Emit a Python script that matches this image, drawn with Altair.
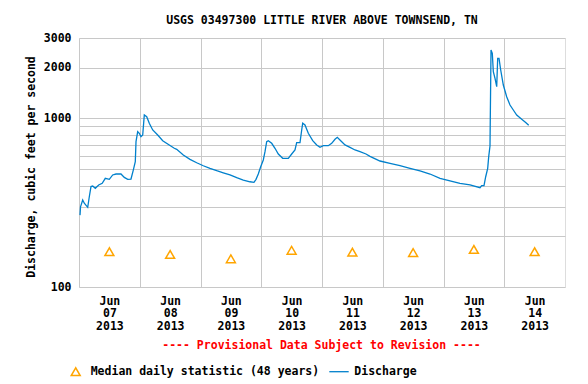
import altair as alt
import pandas as pd

# ---- data ----
hours = [0.40, 0.6, 1.46, 2.09, 3.44, 4.07, 4.74, 5.41, 6.44, 7.78,
         9.17, 10.39, 11.97, 13.31, 14.62, 16.59, 17.9, 19.24, 20.54, 21.45,
         22.24, 22.52, 23.19, 23.82, 24.49, 25.17, 25.80, 26.75, 27.77, 29.12,
         31.09, 33.07, 35.04, 37.65, 38.6, 41.2, 43.85, 46.5, 49.1, 51.75,
         54.4, 57.0, 59.65, 62.3, 64.9, 67.55, 69.13, 69.93, 70.83, 71.78,
         72.81, 73.48, 74.15, 74.78, 76.13, 77.43, 78.74, 80.47, 82.69, 84.03,
         85.33, 86.0, 87.31, 87.98, 88.38, 89.28, 90.59, 92.33, 93.91, 95.21,
         96.51, 98.49, 99.83, 101.13, 102.04, 103.39, 105.09, 107.06, 109.04, 111.01,
         113.38, 114.96, 118.91, 122.86, 126.81, 130.76, 134.72, 138.67, 142.62, 146.57,
         150.52, 154.47, 158.42, 159.09, 160.0, 160.67, 161.46, 161.86, 162.37, 162.77,
         163.28, 163.68, 164.35, 165.02, 165.41, 165.93, 166.6, 167.63, 168.96, 170.27,
         171.58, 172.92, 174.9, 176.59, 177.66]
discharge = [267, 299, 328, 314, 297, 343, 394, 397, 385, 403,
             412, 441, 435, 462, 468, 468, 447, 435, 437, 494,
             554, 728, 834, 816, 779, 797, 1048, 1024, 936, 854,
             797, 738, 705, 665, 656, 607, 572, 546, 524, 506,
             490, 476, 462, 445, 431, 421, 418, 435, 468, 517,
             567, 635, 728, 738, 712, 665, 615, 580, 580, 615,
             650, 718, 718, 854, 936, 914, 816, 738, 696, 674,
             689, 689, 712, 752, 773, 738, 696, 674, 650, 635,
             615, 596, 559, 542, 524, 506, 488, 468, 441, 426,
             412, 403, 388, 399, 399, 451, 506, 593, 686, 2546,
             2434, 1893, 1730, 1543, 2273, 2273, 1938, 1579, 1345, 1201,
             1122, 1048, 988, 943, 910]

median_days = ["2013-06-07T12:00:00", "2013-06-08T12:00:00", "2013-06-09T12:00:00",
               "2013-06-10T12:00:00", "2013-06-11T12:00:00", "2013-06-12T12:00:00",
               "2013-06-13T12:00:00", "2013-06-14T12:00:00"]
median_values = [162, 156, 147, 165, 161, 160, 167, 162]

y_tick_values = [100, 200, 300, 400, 500, 600, 700, 800, 900, 1000, 2000, 3000]
y_labelled = [100, 1000, 2000, 3000]

title_text = "USGS 03497300 LITTLE RIVER ABOVE TOWNSEND, TN"
y_title = "Discharge, cubic feet per second"
provisional_text = "---- Provisional Data Subject to Revision ----"
legend_median = "Median daily statistic (48 years)"
legend_discharge = "Discharge"

FONT = "DejaVu Sans Mono"
FS = 11.5
BLUE = "#0080cc"
ORANGE = "#ffa500"

start = pd.Timestamp("2013-06-07")
flow_df = pd.DataFrame({
    "time": [(start + pd.Timedelta(hours=h)).strftime("%Y-%m-%dT%H:%M:%S") for h in hours],
    "q": discharge,
})
med_df = pd.DataFrame({"time": median_days, "q": median_values})

x_values = [alt.DateTime(year=2013, month=6, date=d) for d in range(7, 15)]
x_scale = alt.Scale(domain=[alt.DateTime(year=2013, month=6, date=7),
                            alt.DateTime(year=2013, month=6, date=15)])
y_scale = alt.Scale(type="log", domain=[100, 3000], nice=False)

x_axis = alt.Axis(
    values=x_values, title=None, grid=True, gridColor="#c8c8c8", ticks=False, domain=False,
    labelOffset=30.4, labelPadding=8, labelLineHeight=12.7,
    labelExpr="[timeFormat(datum.value, '%b'), timeFormat(datum.value, '%d'), timeFormat(datum.value, '%Y')]",
    labelFont=FONT, labelFontSize=FS, labelFontWeight="bold", labelColor="black",
    labelAlign="center", labelBaseline="top", labelFlush=False, labelOverlap=False,
)
y_axis = alt.Axis(
    values=y_tick_values, grid=True, gridColor="#c8c8c8", ticks=False, domain=False,
    labelExpr="indexof(%s, datum.value) >= 0 ? format(datum.value, 'd') : ''" % str(y_labelled),
    labelFont=FONT, labelFontSize=FS, labelFontWeight="bold", labelColor="black",
    labelPadding=8, labelOverlap=False, labelFlush=False, labelBaseline="middle",
    title=y_title, titleFont=FONT, titleFontSize=FS, titleFontWeight="bold", titleColor="black",
    titleX=-48, titleY=128.5, titleAngle=270, titleAlign="center", titleBaseline="middle",
)

line = alt.Chart(flow_df).mark_line(color=BLUE, strokeWidth=1.3).encode(
    x=alt.X("time:T", scale=x_scale, axis=x_axis),
    y=alt.Y("q:Q", scale=y_scale, axis=y_axis),
)
medians = alt.Chart(med_df).mark_point(shape="triangle-up", filled=False, color=ORANGE,
                                       size=80, strokeWidth=1.5, opacity=1).encode(
    x=alt.X("time:T", scale=x_scale),
    y=alt.Y("q:Q", scale=y_scale),
)

def label(text, x, y, color="black", align="left"):
    return alt.Chart(pd.DataFrame({"t": [text]})).mark_text(
        font=FONT, fontSize=FS, fontWeight="bold", color=color, align=align, baseline="middle"
    ).encode(x=alt.value(x), y=alt.value(y), text="t:N")

prov = label(provisional_text, 242.5, 308, color="#ff0000", align="center")
leg_text1 = label(legend_median, 11.7, 333.7)
leg_text2 = label(legend_discharge, 275.3, 333.7)
leg_tri = alt.Chart(pd.DataFrame({"t": [legend_median]})).mark_point(
    shape="triangle-up", filled=False, color=ORANGE, size=80, strokeWidth=1.5, opacity=1
).encode(x=alt.value(-3.3), y=alt.value(333.7))
leg_line = alt.Chart(pd.DataFrame({"t": [legend_discharge]})).mark_rule(
    color=BLUE, strokeWidth=1.3
).encode(x=alt.value(250.3), x2=alt.value(269.7), y=alt.value(333.7))

chart = alt.layer(line, medians, prov, leg_text1, leg_text2, leg_tri, leg_line).properties(
    width=486, height=249,
    title=alt.TitleParams(title_text, font=FONT, fontSize=FS, fontWeight="bold",
                          color="black", anchor="middle", offset=6),
    autosize=alt.AutoSizeParams(type="none"),
    padding={"left": 71, "top": 30, "right": 15, "bottom": 94},
).configure_view(stroke="black", strokeWidth=1.2).configure(background="white")

chart.save("out.html", embed_options={"renderer": "svg", "actions": False})
